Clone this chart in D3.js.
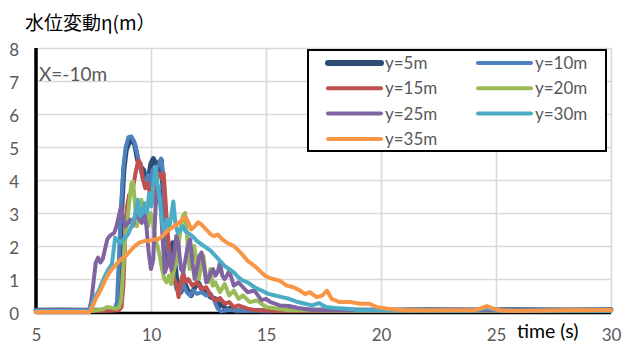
<!DOCTYPE html>
<html>
<head>
<meta charset="utf-8">
<script src="https://cdn.jsdelivr.net/npm/d3@7"></script>
<style>
  html, body { margin: 0; padding: 0; background: #fff; }
  svg { display: block; }
</style>
</head>
<body>
<svg id="chart" width="622" height="351"></svg>
<script>
// Water level change η (m) at X = -10 m, for gauges along y
const xTicks = [5, 10, 15, 20, 25, 30];
const yTicks = [0, 1, 2, 3, 4, 5, 6, 7, 8];
const seriesNames = ["y=5m", "y=10m", "y=15m", "y=20m", "y=25m", "y=30m", "y=35m"];
const seriesColors = ["#2C4D75", "#4F81BD", "#C0504D", "#9BBB59", "#8064A2", "#4BACC6", "#F79646"];

// [time (s), η (m)]
const y5 = [[5,0.05],[6,0.06],[7,0.05],[8,0.06],[8.5,0.08],[8.58,0.4],[8.66,1.8],[8.74,3.3],[8.82,4.3],[8.92,4.9],[9.05,5.15],[9.18,5.2],[9.3,5.05],[9.42,4.6],[9.55,4.4],[9.68,4.3],[9.8,3.9],[9.9,4.1],[10.0,4.5],[10.1,4.65],[10.2,4.5],[10.28,4.2],[10.36,4.55],[10.45,4.6],[10.55,3.4],[10.65,2.1],[10.75,1.5],[10.85,1.7],[10.95,2.1],[11.05,1.4],[11.15,0.8],[11.3,0.6],[11.45,0.9],[11.6,0.65],[11.75,0.5],[11.9,0.75],[12.05,0.9],[12.2,0.7],[12.4,0.6],[12.6,0.45],[12.8,0.4],[12.95,0.15],[13.1,0.3],[13.25,0.05],[13.45,0.12],[13.7,0.03],[14.2,0.05],[15,0.03],[16,0.05],[18,0.06],[20,0.05],[22,0.07],[24,0.06],[26,0.07],[28,0.06],[30,0.07]];

const y10 = [[5,0.04],[7,0.05],[8.4,0.05],[8.52,0.3],[8.6,1.5],[8.7,3.2],[8.8,4.4],[8.9,5.0],[9.02,5.3],[9.15,5.32],[9.28,5.15],[9.4,4.8],[9.52,4.4],[9.64,4.05],[9.76,3.9],[9.86,4.15],[9.96,3.7],[10.06,4.3],[10.16,4.1],[10.26,4.35],[10.36,4.5],[10.44,4.65],[10.52,4.2],[10.6,2.9],[10.7,2.0],[10.8,1.6],[10.9,1.35],[11.0,1.05],[11.1,0.7],[11.25,0.55],[11.4,0.85],[11.55,0.6],[11.7,0.5],[11.85,0.65],[12.0,0.55],[12.2,0.6],[12.4,0.5],[12.6,0.55],[12.75,0.35],[12.9,0.1],[13.05,0.02],[13.3,0.06],[14,0.04],[16,0.05],[20,0.04],[25,0.05],[30,0.05]];

const y15 = [[5,0.03],[8,0.04],[8.6,0.05],[8.72,0.15],[8.8,0.8],[8.88,2.3],[8.96,3.2],[9.05,3.55],[9.15,3.6],[9.25,3.9],[9.35,4.3],[9.45,4.6],[9.55,4.5],[9.65,4.0],[9.75,3.75],[9.85,3.9],[9.95,3.6],[10.05,3.3],[10.15,3.7],[10.25,4.1],[10.35,4.2],[10.45,4.05],[10.55,4.2],[10.62,3.5],[10.7,2.6],[10.8,1.8],[10.9,1.25],[11.0,1.0],[11.1,0.85],[11.2,0.45],[11.3,0.9],[11.4,1.2],[11.5,0.9],[11.62,1.0],[11.8,0.8],[12.0,0.9],[12.2,0.7],[12.4,0.75],[12.6,0.5],[12.8,0.35],[13.0,0.42],[13.2,0.25],[13.4,0.3],[13.6,0.15],[13.8,0.2],[14.2,0.1],[14.6,0.05],[15.5,0.03],[20,0.04],[30,0.04]];

const y20 = [[5,0.03],[7.5,0.04],[7.9,0.08],[8.1,0.15],[8.3,0.12],[8.5,0.1],[8.62,0.15],[8.7,0.35],[8.78,1.2],[8.86,2.1],[8.95,2.6],[9.05,3.3],[9.15,3.9],[9.22,3.95],[9.3,3.3],[9.38,2.6],[9.48,2.9],[9.58,3.4],[9.68,2.8],[9.78,3.0],[9.88,2.6],[9.98,3.0],[10.08,2.8],[10.18,2.2],[10.28,2.0],[10.38,1.7],[10.48,1.3],[10.58,1.0],[10.68,0.9],[10.78,1.1],[10.88,0.85],[10.98,1.2],[11.08,1.5],[11.18,1.9],[11.28,2.5],[11.38,2.9],[11.48,3.0],[11.58,2.2],[11.68,1.3],[11.78,1.6],[11.88,2.0],[11.98,1.5],[12.08,1.0],[12.18,1.4],[12.28,1.7],[12.38,1.1],[12.48,0.9],[12.58,1.3],[12.68,0.8],[12.8,0.9],[13.0,0.6],[13.2,0.85],[13.4,0.5],[13.6,0.65],[13.8,0.4],[14.0,0.5],[14.3,0.3],[14.6,0.35],[15.0,0.15],[15.5,0.1],[16,0.05],[20,0.04],[30,0.04]];

const y25 = [[5,0.05],[7.3,0.05],[7.4,0.3],[7.5,0.9],[7.6,1.5],[7.7,1.65],[7.8,1.5],[7.9,1.6],[8.0,1.9],[8.1,2.2],[8.2,2.3],[8.3,2.35],[8.4,2.4],[8.5,2.6],[8.6,2.9],[8.7,3.2],[8.8,2.8],[8.9,2.6],[9.0,2.7],[9.1,2.8],[9.2,2.6],[9.3,2.9],[9.4,3.0],[9.5,2.8],[9.6,2.7],[9.7,3.1],[9.8,2.6],[9.9,1.8],[10.0,1.3],[10.1,1.6],[10.2,3.2],[10.3,3.8],[10.4,3.5],[10.5,2.3],[10.6,1.2],[10.7,1.4],[10.8,1.8],[10.9,1.3],[11.0,1.7],[11.1,2.3],[11.2,2.0],[11.3,1.3],[11.4,1.2],[11.5,1.6],[11.6,2.0],[11.7,2.2],[11.8,1.5],[11.9,1.0],[12.0,1.3],[12.1,1.7],[12.2,1.8],[12.3,1.4],[12.4,0.9],[12.5,1.0],[12.6,1.2],[12.7,1.3],[12.8,1.1],[12.9,1.2],[13.0,1.5],[13.1,1.1],[13.2,1.0],[13.3,1.1],[13.4,1.25],[13.6,0.8],[13.8,0.9],[14.0,0.75],[14.2,0.6],[14.5,0.65],[14.8,0.36],[15.0,0.4],[15.2,0.3],[15.6,0.2],[16.0,0.18],[16.4,0.12],[17.0,0.06],[18,0.05],[24,0.05],[30,0.05]];

const y30 = [[5,0.03],[7.3,0.04],[7.42,0.2],[7.55,0.45],[7.7,0.6],[7.85,0.85],[8.0,1.1],[8.15,1.3],[8.3,1.45],[8.38,1.9],[8.44,2.25],[8.55,2.15],[8.7,2.1],[8.85,2.25],[9.0,2.35],[9.15,2.6],[9.3,2.9],[9.42,3.4],[9.52,2.9],[9.62,3.0],[9.72,3.3],[9.82,3.0],[9.92,3.6],[10.02,3.2],[10.12,4.0],[10.2,4.4],[10.28,3.9],[10.38,3.4],[10.48,2.7],[10.58,2.4],[10.68,2.8],[10.78,2.5],[10.88,2.9],[10.97,3.35],[11.06,2.7],[11.16,2.4],[11.3,2.5],[11.4,2.6],[11.5,2.45],[11.6,2.4],[11.8,2.3],[12.0,2.15],[12.2,2.05],[12.4,1.95],[12.6,1.85],[12.8,1.7],[13.0,1.55],[13.2,1.4],[13.4,1.3],[13.6,1.2],[13.8,1.05],[14.0,0.95],[14.2,0.9],[14.5,0.75],[14.8,0.65],[15.1,0.55],[15.4,0.5],[15.7,0.45],[16.0,0.4],[16.3,0.32],[16.7,0.25],[17.0,0.2],[17.3,0.27],[17.6,0.15],[18,0.12],[18.5,0.1],[19,0.06],[20,0.05],[24.0,0.04],[24.6,0.12],[25.2,0.04],[30,0.04]];

const y35 = [[5,0.0],[7.35,0.0],[7.45,0.15],[7.6,0.4],[7.8,0.65],[8.0,0.95],[8.15,1.15],[8.3,1.3],[8.5,1.45],[8.7,1.6],[8.9,1.7],[9.1,1.85],[9.3,2.0],[9.5,2.1],[9.7,2.15],[9.9,2.15],[10.1,2.2],[10.3,2.2],[10.5,2.3],[10.7,2.45],[10.9,2.55],[11.1,2.65],[11.3,2.75],[11.5,2.88],[11.6,2.75],[11.75,2.5],[11.9,2.6],[12.05,2.72],[12.2,2.65],[12.4,2.5],[12.6,2.35],[12.75,2.3],[12.9,2.35],[13.1,2.2],[13.3,2.1],[13.6,2.0],[13.9,1.8],[14.2,1.55],[14.5,1.4],[14.8,1.2],[15.0,1.08],[15.3,1.0],[15.6,0.95],[15.9,0.8],[16.2,0.75],[16.5,0.64],[16.7,0.54],[16.9,0.6],[17.2,0.45],[17.45,0.5],[17.65,0.65],[17.85,0.4],[18.2,0.3],[18.7,0.3],[19.1,0.25],[19.5,0.25],[19.8,0.15],[20.3,0.1],[21,0.05],[22,0.05],[23,0.05],[24.0,0.05],[24.3,0.1],[24.6,0.18],[24.9,0.1],[25.3,0.04],[26,0.03],[28,0.05],[30,0.06]];

const seriesData = [y5, y10, y15, y20, y25, y30, y35];

const svg = d3.select("#chart");
const plot = { left: 36, right: 611, top: 48, bottom: 312 };
const labelFont = "Lato, 'Open Sans', sans-serif";
const grey = "#595959";

const x = d3.scaleLinear().domain([5, 30]).range([plot.left, plot.right]);
const y = d3.scaleLinear().domain([0, 8]).range([plot.bottom, plot.top]);

// Horizontal gridlines + y tick labels
const yAxis = svg.append("g")
  .attr("transform", `translate(${plot.left},0)`)
  .call(d3.axisLeft(y).tickValues(yTicks).tickSize(-(plot.right - plot.left)).tickPadding(17).tickFormat(d3.format("d")));
yAxis.select(".domain").remove();
yAxis.selectAll(".tick line").attr("stroke", "#d9d9d9").attr("stroke-width", 1.6);
yAxis.selectAll(".tick text").attr("fill", grey).style("font-family", labelFont).style("font-size", "17px").attr("dy", "0.42em");

// Vertical gridlines + x tick labels
const xAxis = svg.append("g")
  .attr("transform", `translate(0,${plot.bottom})`)
  .call(d3.axisBottom(x).tickValues(xTicks).tickSize(-(plot.bottom - plot.top)).tickPadding(20).tickFormat(d3.format("d")));
xAxis.select(".domain").remove();
xAxis.selectAll(".tick line").attr("stroke", "#d9d9d9").attr("stroke-width", 1.6);
xAxis.selectAll(".tick text").attr("fill", grey).style("font-family", labelFont).style("font-size", "17px").attr("dy", "0.5em");

// Black axis lines
svg.append("line").attr("x1", plot.left).attr("x2", plot.left).attr("y1", plot.top).attr("y2", plot.bottom + 1.5)
  .attr("stroke", "#000").attr("stroke-width", 3.5);
svg.append("line").attr("x1", plot.left).attr("x2", plot.right).attr("y1", plot.bottom + 1).attr("y2", plot.bottom + 1)
  .attr("stroke", "#000").attr("stroke-width", 2.5);

// Series lines
const line = d3.line().x(d => x(d[0])).y(d => y(d[1]));
svg.append("g").selectAll("path")
  .data(seriesData)
  .join("path")
  .attr("d", line)
  .attr("fill", "none")
  .attr("stroke", (d, i) => seriesColors[i])
  .attr("stroke-width", (d, i) => i === 0 ? 5 : 4)
  .attr("stroke-linejoin", "round")
  .attr("stroke-linecap", "round");

// Title and annotations
svg.append("text").attr("x", 25).attr("y", 30)
  .style("font-family", "'Noto Sans CJK JP', sans-serif").style("font-size", "19px").attr("fill", "#000")
  .text("水位変動η(m）");
svg.append("text").attr("x", 39).attr("y", 81)
  .style("font-family", labelFont).style("font-size", "19px").attr("fill", grey)
  .text("X=-10m");
svg.append("text").attr("x", 517).attr("y", 338)
  .style("font-family", labelFont).style("font-size", "19.5px").attr("fill", "#000")
  .text("time (s)");

// Legend
const legend = svg.append("g");
legend.append("rect").attr("x", 308).attr("y", 50).attr("width", 298).attr("height", 101)
  .attr("fill", "#fff").attr("stroke", "#000").attr("stroke-width", 2);
const items = legend.selectAll("g.item")
  .data(seriesNames)
  .join("g")
  .attr("class", "item")
  .attr("transform", (d, i) => `translate(${i % 2 === 0 ? 328 : 478},${63 + Math.floor(i / 2) * 25.3})`);
items.append("line").attr("x1", 0).attr("x2", 53).attr("y1", 0).attr("y2", 0)
  .attr("stroke", (d, i) => seriesColors[i])
  .attr("stroke-width", (d, i) => i === 0 ? 6 : 4)
  .attr("stroke-linecap", "round");
items.append("text").attr("x", 57).attr("y", 0).attr("dy", "0.36em")
  .style("font-family", labelFont).style("font-size", "17px").attr("fill", grey)
  .text(d => d);
</script>
</body>
</html>
